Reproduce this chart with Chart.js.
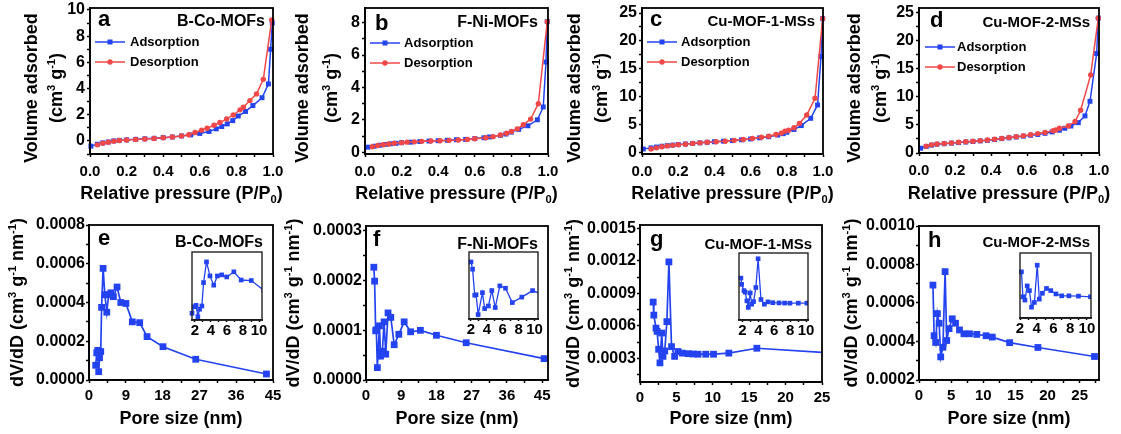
<!DOCTYPE html>
<html>
<head>
<meta charset="utf-8">
<script src="https://cdn.jsdelivr.net/npm/chart.js@4.4.1/dist/chart.umd.min.js"></script>
<style>
  html, body { margin: 0; padding: 0; background: #fff; }
  body { position: relative; width: 1121px; height: 434px; overflow: hidden; }
</style>
</head>
<body>
<script>
const FONT = "'Liberation Sans', Arial, Helvetica, sans-serif";
const BLUE = '#2443f0';
const RED = '#f04848';

// N2 isotherms: [P/P0, volume adsorbed]
const aAds = [[0.005,-0.4],[0.04,-0.25],[0.07,-0.15],[0.1,-0.08],[0.13,0.0],[0.16,0.04],[0.2,0.08],[0.25,0.12],[0.3,0.16],[0.35,0.2],[0.4,0.25],[0.45,0.3],[0.5,0.38],[0.55,0.46],[0.6,0.57],[0.65,0.72],[0.69,0.92],[0.72,1.1],[0.75,1.3],[0.78,1.55],[0.81,1.9],[0.85,2.25],[0.89,2.7],[0.94,3.3],[0.975,4.35],[0.987,7.0],[0.996,9.0]];
const aDes = [[0.04,-0.3],[0.07,-0.18],[0.1,-0.1],[0.13,-0.02],[0.16,0.03],[0.2,0.07],[0.25,0.11],[0.3,0.14],[0.35,0.18],[0.4,0.24],[0.45,0.3],[0.5,0.37],[0.54,0.47],[0.574,0.64],[0.61,0.82],[0.64,0.97],[0.678,1.2],[0.71,1.4],[0.747,1.68],[0.783,1.98],[0.82,2.37],[0.838,2.57],[0.874,3.08],[0.91,3.59],[0.947,4.7],[0.993,9.24]];
const bAds = [[0.015,0.32],[0.05,0.38],[0.08,0.44],[0.11,0.49],[0.14,0.53],[0.17,0.56],[0.2,0.6],[0.25,0.63],[0.3,0.67],[0.35,0.7],[0.4,0.72],[0.45,0.75],[0.5,0.78],[0.55,0.8],[0.6,0.85],[0.65,0.9],[0.68,0.95],[0.74,1.05],[0.77,1.13],[0.8,1.25],[0.84,1.42],[0.89,1.64],[0.942,2.01],[0.974,2.8],[0.989,5.57],[0.996,8.06]];
const bDes = [[0.04,0.35],[0.07,0.42],[0.1,0.47],[0.13,0.52],[0.16,0.56],[0.2,0.6],[0.23,0.63],[0.27,0.65],[0.31,0.68],[0.36,0.7],[0.41,0.72],[0.46,0.74],[0.51,0.76],[0.56,0.8],[0.6,0.84],[0.66,0.9],[0.7,0.97],[0.74,1.07],[0.774,1.18],[0.8,1.29],[0.832,1.45],[0.865,1.7],[0.905,2.05],[0.947,3.0],[0.996,8.06]];
const cAds = [[0.007,0.6],[0.05,0.8],[0.08,0.95],[0.11,1.1],[0.14,1.2],[0.17,1.3],[0.2,1.4],[0.24,1.5],[0.28,1.6],[0.32,1.7],[0.36,1.8],[0.4,1.9],[0.45,2.0],[0.5,2.1],[0.55,2.25],[0.6,2.4],[0.65,2.6],[0.7,2.8],[0.75,3.1],[0.78,3.35],[0.8,3.6],[0.84,4.1],[0.88,4.8],[0.932,6.1],[0.97,8.5],[0.989,17.2],[0.998,24.0]];
const cDes = [[0.05,0.6],[0.08,0.8],[0.11,1.0],[0.14,1.15],[0.17,1.25],[0.2,1.35],[0.24,1.45],[0.28,1.6],[0.32,1.7],[0.36,1.8],[0.41,1.9],[0.46,2.0],[0.51,2.15],[0.56,2.3],[0.61,2.5],[0.66,2.7],[0.7,2.9],[0.74,3.2],[0.77,3.45],[0.79,3.8],[0.81,3.95],[0.84,4.4],[0.87,5.2],[0.91,6.7],[0.956,9.7],[0.998,24.0]];
const dAds = [[0.009,0.85],[0.04,1.15],[0.07,1.4],[0.1,1.55],[0.14,1.65],[0.18,1.75],[0.22,1.85],[0.26,1.95],[0.3,2.05],[0.34,2.15],[0.38,2.25],[0.42,2.4],[0.46,2.55],[0.5,2.7],[0.54,2.85],[0.58,3.0],[0.62,3.15],[0.66,3.3],[0.7,3.5],[0.74,3.75],[0.78,4.05],[0.81,4.4],[0.844,4.8],[0.885,5.4],[0.922,6.6],[0.95,9.2],[0.987,17.7],[0.996,24.0]];
const dDes = [[0.04,1.2],[0.07,1.45],[0.1,1.6],[0.14,1.7],[0.18,1.8],[0.22,1.9],[0.26,2.0],[0.3,2.1],[0.34,2.2],[0.38,2.3],[0.42,2.45],[0.46,2.6],[0.5,2.75],[0.54,2.9],[0.58,3.05],[0.62,3.25],[0.66,3.45],[0.7,3.65],[0.746,3.95],[0.76,4.1],[0.78,4.4],[0.83,4.8],[0.867,5.6],[0.898,7.6],[0.954,13.9],[0.996,24.0]];

// pore size distributions: [pore size nm, dV/dD]
const ePsd = [[1.64,7.6e-5],[1.89,1.4e-4],[2.15,1.53e-4],[2.37,4.3e-5],[2.58,1.15e-4],[2.87,1.47e-4],[3.08,3.75e-4],[3.45,5.76e-4],[3.88,4.4e-4],[4.35,3.5e-4],[4.81,4.4e-4],[5.35,4.5e-4],[5.97,4.3e-4],[6.86,4.8e-4],[7.77,4.0e-4],[9.03,3.95e-4],[10.6,3.0e-4],[12.4,2.96e-4],[14.2,2.24e-4],[18.1,1.72e-4],[26.1,1.07e-4],[43.4,3.1e-5]];
const fPsd = [[2.0,2.27e-4],[2.2,1.99e-4],[2.47,9.9e-5],[2.64,1.01e-4],[2.9,2.5e-5],[3.44,1.09e-4],[3.72,4.8e-5],[4.19,5.8e-5],[4.62,1.17e-4],[5.05,5.2e-5],[5.63,1.35e-4],[6.34,1.26e-4],[7.2,7.1e-5],[8.39,9.2e-5],[9.75,1.17e-4],[11.4,9.7e-5],[13.9,1.0e-4],[18.0,9.0e-5],[25.6,7.5e-5],[45.5,4.3e-5]];
const gPsd = [[1.81,8.2e-4],[1.9,7.0e-4],[2.2,5.8e-4],[2.35,5.5e-4],[2.56,3.85e-4],[2.74,2.6e-4],[2.98,5.35e-4],[3.16,3.2e-4],[3.4,3.7e-4],[3.69,6.4e-4],[3.97,1.19e-3],[4.33,4.1e-4],[4.76,3.2e-4],[5.21,3.65e-4],[5.82,3.5e-4],[6.6,3.45e-4],[7.3,3.42e-4],[7.97,3.4e-4],[9.03,3.4e-4],[10.1,3.4e-4],[12.2,3.5e-4],[16.05,3.95e-4],[26.5,3.5e-4]];
const hPsd = [[2.17,6.93e-4],[2.35,4.3e-4],[2.59,3.95e-4],[2.86,5.45e-4],[3.13,4.95e-4],[3.38,3.2e-4],[3.72,3.7e-4],[4.06,7.63e-4],[4.31,4.05e-4],[4.68,4.67e-4],[5.17,5.18e-4],[5.68,4.95e-4],[6.3,4.6e-4],[6.99,4.4e-4],[7.85,4.4e-4],[8.99,4.37e-4],[10.43,4.3e-4],[11.4,4.23e-4],[14.1,3.94e-4],[18.5,3.69e-4],[27.3,3.22e-4]];

// tick labels
const isoXTicks = [0, 0.2, 0.4, 0.6, 0.8, 1.0];
const aYTicks = [0, 2, 4, 6, 8, 10];
const bYTicks = [0, 2, 4, 6, 8];
const cdYTicks = [0, 5, 10, 15, 20, 25];
const efXTicks = [0, 9, 18, 27, 36, 45];
const ghXTicks = [0, 5, 10, 15, 20, 25];
const eYTicks = [0, 0.0002, 0.0004, 0.0006, 0.0008];
const fYTicks = [0, 0.0001, 0.0002, 0.0003];
const gYTicks = [0.0003, 0.0006, 0.0009, 0.0012, 0.0015];
const hYTicks = [0.0002, 0.0004, 0.0006, 0.0008, 0.0010];
const insetXTicks = [2, 4, 6, 8, 10];

const sampleNames = ['B-Co-MOFs', 'F-Ni-MOFs', 'Cu-MOF-1-MSs', 'Cu-MOF-2-MSs'];

const yIsoTitle = [[['Volume adsorbed']], [['(cm'], ['3', 'sup'], [' g'], ['-1', 'sup'], [')']]];
const xIsoTitle = [['Relative pressure (P/P'], ['0', 'sub'], [')']];
const yPsdTitle = [[['dV/dD (cm'], ['3', 'sup'], [' g'], ['-1', 'sup'], [' nm'], ['-1', 'sup'], [')']]];
const xPsdTitle = [['Pore size (nm)']];

function withMinor(majors, lo, hi) {
  const step = majors[1] - majors[0];
  const out = [];
  for (let i = -1; i <= 2 * (majors.length - 1) + 1; i++) {
    const v = majors[0] + i * step / 2;
    if (v >= lo - step * 1e-6 && v <= hi + step * 1e-6) out.push(v);
  }
  return out;
}

function makeScale(o) {
  const step = o.majors[1] - o.majors[0];
  return {
    type: 'linear',
    display: o.display !== false,
    min: o.min,
    max: o.max,
    afterBuildTicks: s => { s.ticks = withMinor(o.majors, o.min, o.max).map(v => ({ value: v })); },
    afterFit: s => { if (o.isX) s.height = o.size; else s.width = o.size; },
    grid: { drawOnChartArea: false, drawTicks: true, tickLength: o.tickLength, tickWidth: 1.5, tickColor: '#000' },
    border: { display: true, color: '#000', width: 1.8 },
    ticks: {
      color: '#000',
      padding: o.pad,
      autoSkip: false,
      maxRotation: 0,
      font: { family: FONT, size: o.font, weight: 'bold', lineHeight: o.lh || 1.2 },
      callback: v => o.majors.some(m => Math.abs(m - v) < step * 1e-6) ? o.fmt(v) : ''
    }
  };
}

function richWidth(ctx, parts, size) {
  let w = 0;
  for (const [t, mode] of parts) {
    ctx.font = `bold ${mode ? size * 0.62 : size}px ${FONT}`;
    w += ctx.measureText(t).width;
  }
  return w;
}

function drawRich(ctx, parts, size, x, y, rot) {
  ctx.save();
  ctx.translate(x, y);
  if (rot) ctx.rotate(rot);
  let cx = -richWidth(ctx, parts, size) / 2;
  ctx.textAlign = 'left';
  ctx.textBaseline = 'alphabetic';
  for (const [t, mode] of parts) {
    ctx.font = `bold ${mode ? size * 0.62 : size}px ${FONT}`;
    const dy = mode === 'sup' ? -size * 0.4 : mode === 'sub' ? size * 0.2 : 0;
    ctx.fillText(t, cx, size * 0.36 + dy);
    cx += ctx.measureText(t).width;
  }
  ctx.restore();
}

function makeDecor(d) {
  return {
    id: 'decor',
    afterDraw(chart) {
      const ctx = chart.ctx, a = chart.chartArea;
      ctx.save();
      ctx.strokeStyle = d.frameColor || '#000';
      ctx.lineWidth = d.frameWidth || 1.8;
      ctx.strokeRect(a.left, a.top, a.right - a.left, a.bottom - a.top);
      ctx.fillStyle = '#000';
      if (d.letter) {
        ctx.font = `bold 22px ${FONT}`;
        ctx.textAlign = 'left';
        ctx.textBaseline = 'alphabetic';
        ctx.fillText(d.letter, a.left + d.letterAt[0], a.top + d.letterAt[1]);
      }
      if (d.name) {
        ctx.font = `bold ${d.nameSize}px ${FONT}`;
        ctx.textAlign = 'right';
        ctx.textBaseline = 'middle';
        ctx.fillText(d.name, a.right - d.nameAt[0], a.top + d.nameAt[1]);
      }
      if (d.yTitle) {
        const cy = d.yTitleDy != null ? a.top + d.yTitleDy : (a.top + a.bottom) / 2;
        d.yTitle.forEach((parts, i) => drawRich(ctx, parts, 18, a.left + d.yTitleX[i], cy, -Math.PI / 2));
      }
      if (d.xTitle) drawRich(ctx, d.xTitle, 18, (a.left + a.right) / 2, a.bottom + d.xTitleDy, 0);
      if (d.legend) {
        const L = d.legend;
        chart.data.datasets.forEach((ds, i) => {
          const y = a.top + L.rows[i];
          const x0 = a.left + L.x0, x1 = a.left + L.x1, xm = (x0 + x1) / 2;
          ctx.strokeStyle = ds.borderColor;
          ctx.lineWidth = 1.5;
          ctx.beginPath(); ctx.moveTo(x0, y); ctx.lineTo(x1, y); ctx.stroke();
          ctx.fillStyle = ds.backgroundColor;
          if (ds.pointStyle === 'rect') ctx.fillRect(xm - 2.5, y - 2.5, 5, 5);
          else { ctx.beginPath(); ctx.arc(xm, y, 2.7, 0, Math.PI * 2); ctx.fill(); }
          ctx.fillStyle = '#000';
          ctx.font = `bold 13px ${FONT}`;
          ctx.textAlign = 'left';
          ctx.textBaseline = 'middle';
          ctx.fillText(ds.label, a.left + L.tx, y + 0.5);
        });
      }
      ctx.restore();
    }
  };
}

function series(pairs, o) {
  return {
    label: o.label,
    data: pairs.map(([x, y]) => ({ x, y })),
    borderColor: o.color,
    backgroundColor: o.color,
    borderWidth: o.width,
    pointStyle: o.style,
    pointRadius: o.radius,
    pointHoverRadius: o.radius,
    pointBorderWidth: 0,
    tension: 0,
    order: o.order || 0,
    clip: { left: 6, top: 6, bottom: 6, right: o.clipRight != null ? o.clipRight : 4 }
  };
}

function addCanvas(left, top, width, height) {
  const c = document.createElement('canvas');
  c.width = width;
  c.height = height;
  c.style.cssText = `position:absolute;left:${left}px;top:${top}px;width:${width}px;height:${height}px;`;
  document.body.appendChild(c);
  return c;
}

// p: canvas box (L,T,W,H) + chart area (left,right,top,bottom) in page pixels
function panel(p) {
  const c = addCanvas(p.L, p.T, p.W, p.H);
  const padLeft = p.yAxis.display === false ? p.left - p.L : 0;
  new Chart(c, {
    type: 'line',
    data: { datasets: p.datasets },
    options: {
      responsive: false,
      animation: false,
      events: [],
      layout: { padding: { top: p.top - p.T, right: p.L + p.W - p.right, bottom: 0, left: padLeft } },
      plugins: { legend: { display: false }, tooltip: { enabled: false } },
      scales: {
        x: makeScale(Object.assign({ isX: true, size: p.T + p.H - p.bottom }, p.xAxis)),
        y: makeScale(Object.assign({ isX: false, size: p.left - p.L }, p.yAxis))
      }
    },
    plugins: [makeDecor(p.decor)]
  });
}

const int = v => String(Math.round(v));
const fix1 = v => v.toFixed(1);
const fix4 = v => v.toFixed(4);

function isoSets(ads, des) {
  return [
    series(ads, { label: 'Adsorption', color: BLUE, style: 'rect', radius: 3.5, width: 1.5, order: 1 }),
    series(des, { label: 'Desorption', color: RED, style: 'circle', radius: 2.7, width: 1.5, order: 0 })
  ];
}

const isoX = { min: 0, max: 1, majors: isoXTicks, fmt: fix1, font: 15, tickLength: 3, pad: 6 };

// ---------- top row: isotherms ----------
const topRow = [
  { L: 0, left: 90, right: 273, bottom: 154, data: [aAds, aDes], y: { min: -1, max: 10.15, majors: aYTicks },
    letter: 'a', letterAt: [8, 18], nameSize: 16, nameAt: [8, 14], legend: { x0: 5, x1: 35, tx: 40, rows: [34, 54] }, yTitleX: [-59, -34] },
  { L: 280, left: 365, right: 548, bottom: 154, data: [bAds, bDes], y: { min: -0.1, max: 8.9, majors: bYTicks },
    letter: 'b', letterAt: [10, 22], nameSize: 16, nameAt: [10, 15], legend: { x0: 5, x1: 35, tx: 39, rows: [35, 55] }, yTitleX: [-63, -34] },
  { L: 558, left: 642, right: 823, bottom: 154, data: [cAds, cDes], y: { min: -0.3, max: 25.9, majors: cdYTicks },
    letter: 'c', letterAt: [8, 18], nameSize: 15, nameAt: [8, 14], legend: { x0: 5, x1: 35, tx: 39, rows: [34, 54] }, yTitleX: [-68, -41] },
  { L: 838, left: 919, right: 1099, bottom: 153, data: [dAds, dDes], y: { min: 0, max: 25.8, majors: cdYTicks },
    letter: 'd', letterAt: [11, 19], nameSize: 15, nameAt: [9, 15], legend: { x0: 6, x1: 36, tx: 38, rows: [39, 59] }, yTitleX: [-65, -39] }
];

topRow.forEach((q, i) => {
  panel({
    L: q.L, T: -12, W: q.right + 20 - q.L, H: 218,
    left: q.left, right: q.right, top: 8, bottom: q.bottom,
    datasets: isoSets(q.data[0], q.data[1]),
    xAxis: isoX,
    yAxis: Object.assign({ fmt: int, font: 16, tickLength: 3, pad: 2 }, q.y),
    decor: {
      letter: q.letter, letterAt: q.letterAt, name: sampleNames[i], nameSize: q.nameSize, nameAt: q.nameAt,
      yTitle: yIsoTitle, yTitleX: q.yTitleX, yTitleDy: 80,
      xTitle: xIsoTitle, xTitleDy: 193 - q.bottom, legend: q.legend
    }
  });
});

// ---------- bottom row: pore size distributions ----------
const bottomRow = [
  { L: 0, left: 89, right: 273, top: 225, bottom: 380, data: ePsd,
    x: { min: 0, max: 45, majors: efXTicks }, y: { min: 0, max: 0.0008, majors: eYTicks },
    letter: 'e', letterAt: [9, 20], nameSize: 16, nameAt: [10, 18], yTitleX: [-72],
    inset: { L: 168, left: 180, right: 262, top: 252, bottom: 320, x: [1.64, 10.37], y: [1.05e-5, 6.73e-4] } },
  { L: 280, left: 366, right: 548, top: 226, bottom: 380, data: fPsd,
    x: { min: 0, max: 46.5, majors: efXTicks }, y: { min: 0, max: 0.00031, majors: fYTicks },
    letter: 'f', letterAt: [7, 20], nameSize: 16, nameAt: [10, 19], yTitleX: [-73],
    inset: { L: 445, left: 457, right: 538, top: 252, bottom: 319, x: [1.75, 10.43], y: [8e-6, 2.65e-4] } },
  { L: 558, left: 640, right: 822, top: 225, bottom: 382, data: gPsd,
    x: { min: 0, max: 25, majors: ghXTicks }, y: { min: 0.000084, max: 0.00153, majors: gYTicks },
    letter: 'g', letterAt: [10, 21], nameSize: 15, nameAt: [10, 20], yTitleX: [-67],
    inset: { L: 715, left: 727, right: 808, top: 253, bottom: 320, x: [1.57, 10.24], y: [1.8e-5, 1.30e-3] } },
  { L: 838, left: 919, right: 1099, top: 226, bottom: 380, data: hPsd,
    x: { min: 0, max: 28, majors: ghXTicks }, y: { min: 0.0002, max: 0.0010, majors: hYTicks },
    letter: 'h', letterAt: [9, 21], nameSize: 15, nameAt: [9, 17], yTitleX: [-68],
    inset: { L: 996, left: 1008, right: 1091, top: 253, bottom: 318, x: [2.0, 10.49], y: [2.06e-4, 8.92e-4] } }
];

bottomRow.forEach((q, i) => {
  panel({
    L: q.L, T: 205, W: q.right + 20 - q.L, H: 225,
    left: q.left, right: q.right, top: q.top, bottom: q.bottom,
    datasets: [series(q.data, { label: sampleNames[i], color: BLUE, style: 'rect', radius: 4.8, width: 1.7, clipRight: 0 })],
    xAxis: Object.assign({ fmt: int, font: 15, tickLength: 3, pad: 4 }, q.x),
    yAxis: Object.assign({ fmt: fix4, font: 16, tickLength: 3, pad: 1 }, q.y),
    decor: {
      letter: q.letter, letterAt: q.letterAt, name: sampleNames[i], nameSize: q.nameSize, nameAt: q.nameAt,
      yTitle: yPsdTitle, yTitleX: q.yTitleX, xTitle: xPsdTitle, xTitleDy: 418 - q.bottom
    }
  });
  const s = q.inset;
  panel({
    L: s.L, T: 240, W: s.right + 14 - s.L, H: 105,
    left: s.left, right: s.right, top: s.top, bottom: s.bottom,
    datasets: [series(q.data, { label: sampleNames[i], color: BLUE, style: 'rect', radius: 3.3, width: 1.3, clipRight: 0 })],
    xAxis: { min: s.x[0], max: s.x[1], majors: insetXTicks, fmt: int, font: 15, lh: 1, tickLength: 2, pad: 1 },
    yAxis: { display: false, min: s.y[0], max: s.y[1], majors: [s.y[0], s.y[1]], fmt: fix4, font: 10, tickLength: 0, pad: 0 },
    decor: { frameColor: '#222', frameWidth: 1.4 }
  });
});
</script>
</body>
</html>
